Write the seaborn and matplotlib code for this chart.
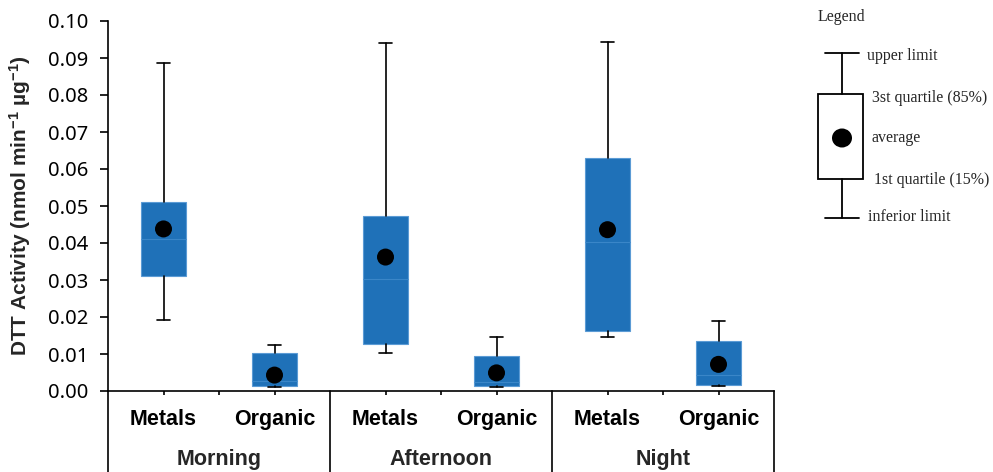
import matplotlib
matplotlib.use('Agg')
import matplotlib.pyplot as plt
import matplotlib.transforms as mtransforms
from matplotlib.patches import Rectangle, Ellipse
import seaborn as sns
import pandas as pd

# Summary statistics (one entry per box)
periods = ['Morning', 'Afternoon', 'Night']
fractions = ['Metals', 'Organic']
upper_limit = [0.0887, 0.0124, 0.0940, 0.0147, 0.0944, 0.0188]
quartile_85 = [0.0511, 0.0103, 0.0474, 0.0094, 0.0631, 0.0135]
median = [0.0410, 0.0027, 0.0303, 0.0025, 0.0402, 0.0044]
quartile_15 = [0.0311, 0.0014, 0.0127, 0.0013, 0.0163, 0.0016]
inferior_limit = [0.0193, 0.0012, 0.0102, 0.0011, 0.0147, 0.0013]
average = [0.0438, 0.0043, 0.0362, 0.0049, 0.0436, 0.0072]
y_ticks = [0.00, 0.01, 0.02, 0.03, 0.04, 0.05, 0.06, 0.07, 0.08, 0.09, 0.10]

sns.set_theme(style='ticks')
plt.rcParams['font.family'] = ['Liberation Sans', 'DejaVu Sans']
plt.rcParams['mathtext.fontset'] = 'custom'
plt.rcParams['mathtext.rm'] = 'Liberation Sans:bold'
plt.rcParams['mathtext.it'] = 'Liberation Sans:bold'
plt.rcParams['mathtext.bf'] = 'Liberation Sans:bold'

# long table: one row per box
labels = [f for p in periods for f in fractions]
df = pd.DataFrame({'pos': range(len(labels)), 'label': labels,
                   'whislo': inferior_limit, 'q1': quartile_15, 'med': median,
                   'q3': quartile_85, 'whishi': upper_limit, 'mean': average})

fig = plt.figure(figsize=(9.93, 4.72), dpi=100)
ax = fig.add_axes([108 / 993, 1 - 391 / 472, 666 / 993, 370 / 472])

box_color = '#1f71b8'
stats = df[['whislo', 'q1', 'med', 'q3', 'whishi']].to_dict('records')
ax.bxp(stats, positions=df['pos'], widths=0.4, showfliers=False,
       patch_artist=True, capwidths=0.11,
       boxprops=dict(facecolor=box_color, edgecolor='#5b9bd5', linewidth=0.8),
       medianprops=dict(color='#3a86c8', linewidth=0.8),
       whiskerprops=dict(color='black', linewidth=1.2),
       capprops=dict(color='black', linewidth=1.2))

# averages as black dots
sns.scatterplot(data=df, x='pos', y='mean', color='black', s=150,
                edgecolor='none', zorder=5, ax=ax, legend=False)

ax.set_xlim(-0.5, 5.5)
ax.set_ylim(0, 0.10)
ax.set_yticks(y_ticks)
ax.set_yticklabels([f'{v:.2f}' for v in y_ticks], fontfamily='Noto Sans', fontsize=14.5)
ax.tick_params(axis='y', length=6, width=1.2, pad=8, colors='black')

ax.set_xticks(df['pos'])
ax.set_xticklabels(df['label'], fontsize=15.5, fontweight='bold')
ax.set_xticks([0.5, 2.5, 4.5], minor=True)
ax.tick_params(axis='x', which='both', length=3, width=1.2, pad=10, colors='black')
ax.set_xlabel('')

for side in ['top', 'right']:
    ax.spines[side].set_visible(False)
for side in ['left', 'bottom']:
    ax.spines[side].set_linewidth(1.2)
    ax.spines[side].set_color('black')

# multi-level category axis: separators and period names below
trans = mtransforms.blended_transform_factory(ax.transData, ax.transAxes)
for x in [-0.5, 1.5, 3.5, 5.5]:
    ax.plot([x, x], [0, -0.25], transform=trans, clip_on=False,
            color='black', linewidth=1.2)
for i, p in enumerate(periods):
    ax.text(2 * i + 0.5, -0.186, p, transform=trans, ha='center', va='center',
            fontsize=15.5, fontweight='bold')

ax.set_ylabel(r'DTT Activity (nmol min$^{-1}$ µg$^{-1}$)', fontsize=15,
              fontweight='bold', va='center')
ax.yaxis.set_label_coords(-0.132, 0.5)

# hand-drawn style legend on the right
lg = fig.add_axes([0, 0, 1, 1])
lg.set_xlim(0, 993)
lg.set_ylim(472, 0)
lg.axis('off')
lg.patch.set_alpha(0)
lw = 1.3
lg.plot([842, 842], [53, 94], color='black', linewidth=lw)
lg.plot([842, 842], [179, 218], color='black', linewidth=lw)
lg.plot([825, 859], [53, 53], color='black', linewidth=lw)
lg.plot([825, 859], [218, 218], color='black', linewidth=lw)
lg.add_patch(Rectangle((818, 94), 45, 85, facecolor='white', edgecolor='black', linewidth=lw))
lg.add_patch(Ellipse((842, 138), 20, 19, facecolor='black', edgecolor='none'))
serif = dict(fontfamily='Liberation Serif', fontsize=11.5, va='center', ha='left')
lg.text(818, 17, 'Legend', **serif)
lg.text(867, 56, 'upper limit', **serif)
lg.text(872, 98, '3st quartile (85%)', **serif)
lg.text(871, 138, 'average', **serif)
lg.text(874, 180, '1st quartile (15%)', **serif)
lg.text(868, 217, 'inferior limit', **serif)

fig.savefig('out.png', dpi=100, facecolor='white')
